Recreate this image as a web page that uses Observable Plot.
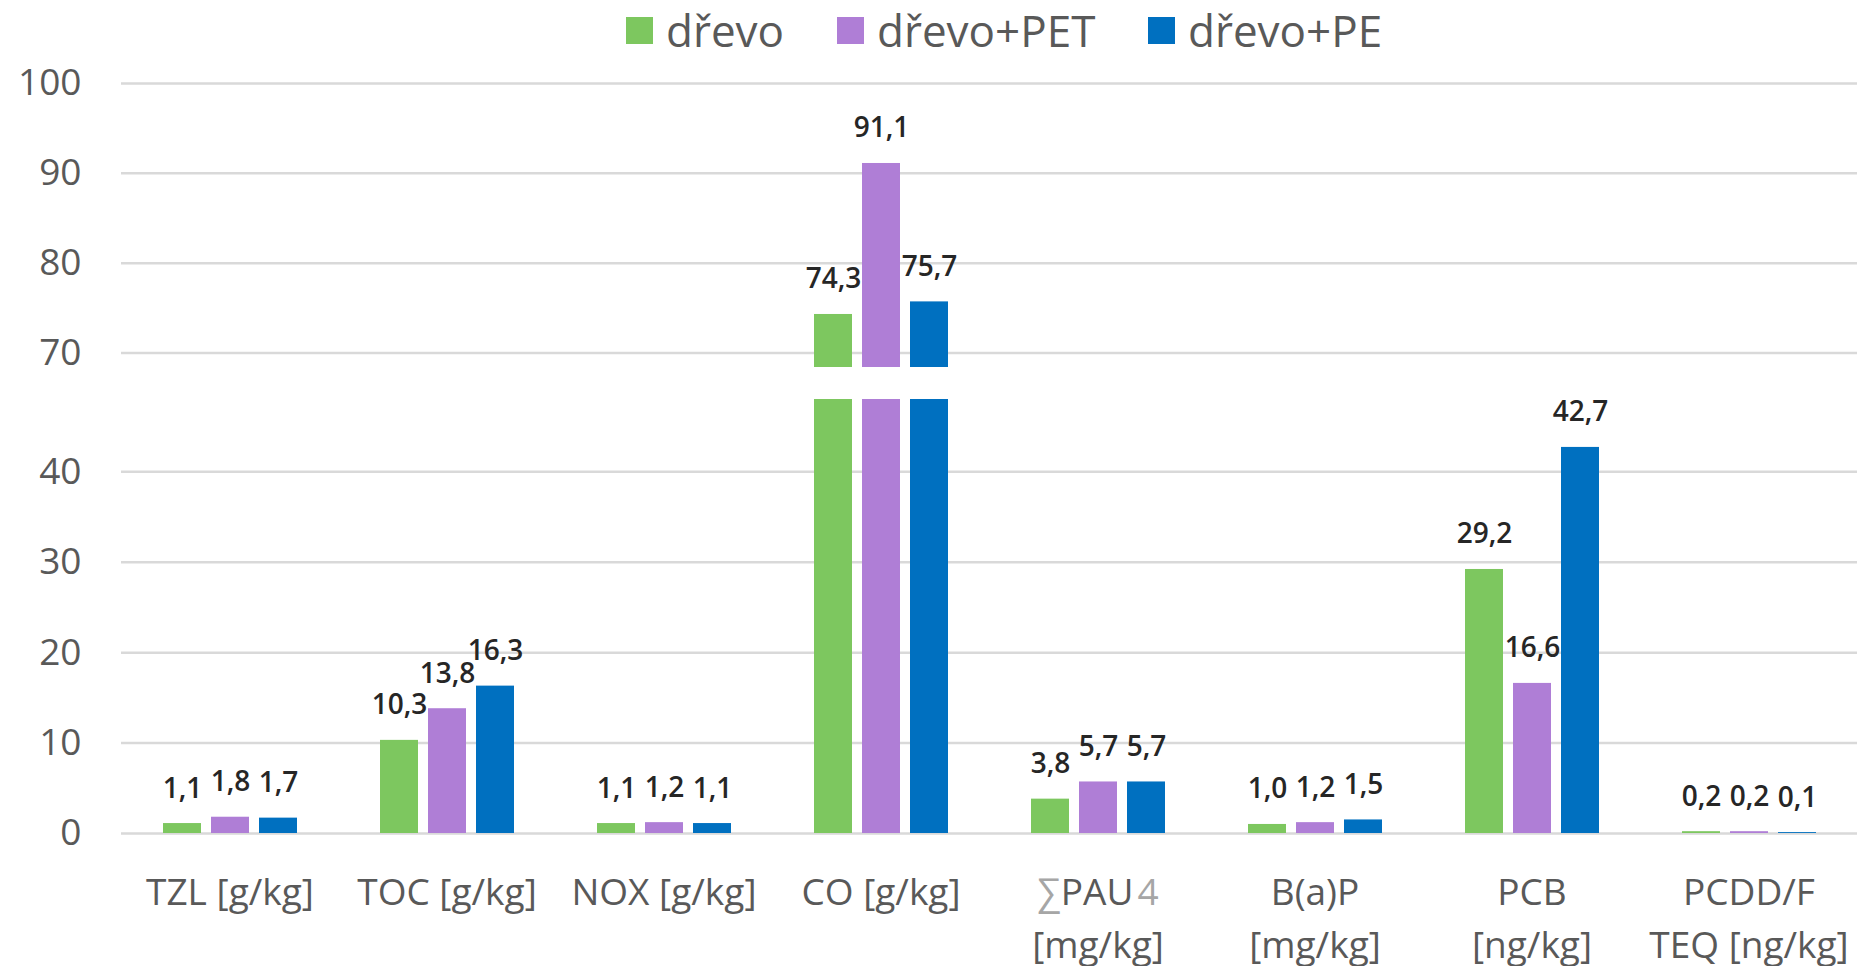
<!DOCTYPE html>
<html><head><meta charset="utf-8">
<script src="https://cdn.jsdelivr.net/npm/d3@7"></script>
<script src="https://cdn.jsdelivr.net/npm/@observablehq/plot@0.6"></script>
<style>
body{margin:0;background:#fff;font-family:"Open Sans",sans-serif;overflow:hidden;}
#legend{position:relative;height:60px;width:1859px;}
.item{position:absolute;top:0px;height:60px;display:flex;align-items:center;font-size:44px;color:#595959;white-space:nowrap;}
.sw{width:27px;height:27px;margin-right:13px;}
</style></head><body>
<div id="legend"></div>
<div id="chart"></div>
<script>
// ---- data ----
const categories = ["TZL [g/kg]", "TOC [g/kg]", "NOX [g/kg]", "CO [g/kg]", "∑PAU4\n[mg/kg]", "B(a)P\n[mg/kg]", "PCB\n[ng/kg]", "PCDD/F\nTEQ [ng/kg]"];
const series = ["dřevo", "dřevo+PET", "dřevo+PE"];
const drevo    = [1.1, 10.3, 1.1, 74.3, 3.8, 1.0, 29.2, 0.2];
const drevoPET = [1.8, 13.8, 1.2, 91.1, 5.7, 1.2, 16.6, 0.2];
const drevoPE  = [1.7, 16.3, 1.1, 75.7, 5.7, 1.5, 42.7, 0.1];
const yTicks = [0, 10, 20, 30, 40, 70, 80, 90, 100];
const breakLow = 48, breakHigh = 68.4;
const colors = ["#7DC75F", "#AF7ED6", "#0070C0"];

const valuesBySeries = [drevo, drevoPET, drevoPE];
const rows = [];
categories.forEach((c, i) => series.forEach((s, j) => rows.push({category: c, series: s, value: valuesBySeries[j][i]})));
const fmt = v => v.toFixed(1).replace(".", ",");

// ---- legend ----
const legendLefts = [626, 837, 1148];
const legend = document.getElementById("legend");
series.forEach((s, j) => {
  const it = document.createElement("div");
  it.className = "item";
  it.style.left = legendLefts[j] + "px";
  it.innerHTML = `<span class="sw" style="background:${colors[j]}"></span><span>${s}</span>`;
  legend.appendChild(it);
});

// ---- chart ----
const chart = Plot.plot({
  width: 1859,
  height: 906,
  marginLeft: 121,
  marginRight: 2,
  marginTop: 0,
  marginBottom: 0,
  style: {fontFamily: "'Open Sans', sans-serif", background: "white", overflow: "visible"},
  fx: {domain: categories, padding: 0, axis: null},
  x: {domain: series, paddingInner: 0.216, paddingOuter: 0.841, axis: null},
  y: {type: "linear", domain: [0, breakLow, breakHigh, 100], range: [773, 339, 307, 23], axis: null},
  color: {domain: series, range: colors},
  marks: [
    Plot.ruleY(yTicks, {stroke: "#d9d9d9", strokeWidth: 2.5}),
    Plot.barY(rows, {fx: "category", x: "series", y1: 0, y2: d => Math.min(d.value, breakLow), fill: "series"}),
    Plot.barY(rows.filter(d => d.value > breakHigh), {fx: "category", x: "series", y1: breakHigh, y2: "value", fill: "series"}),
    Plot.text(rows, {fx: "category", x: "series", y: "value", text: d => fmt(d.value), dy: -35, fontSize: 28, fontWeight: 600, fill: "#262626"}),
    Plot.text(categories, {fx: d => d, y: 0, text: d => d, dy: 34, lineAnchor: "top", lineHeight: 1.43, fontSize: 37, fill: "#595959"}),
    Plot.axisY(yTicks, {tickSize: 0, tickPadding: 40, fontSize: 37, color: "#595959", tickFormat: d => String(d), label: null})
  ]
});
document.getElementById("chart").appendChild(chart);

// lighter gray for the ∑ and 4 in the ∑PAU4 label (as in the original)
d3.select(chart).selectAll("tspan").each(function() {
  if (this.textContent === "∑PAU4") {
    const t = d3.select(this);
    t.text(null);
    t.append("tspan").attr("fill", "#a6a6a6").text("∑");
    t.append("tspan").text("PAU");
    t.append("tspan").attr("fill", "#a6a6a6").attr("dx", 4).text("4");
  }
});
</script>
</body></html>
